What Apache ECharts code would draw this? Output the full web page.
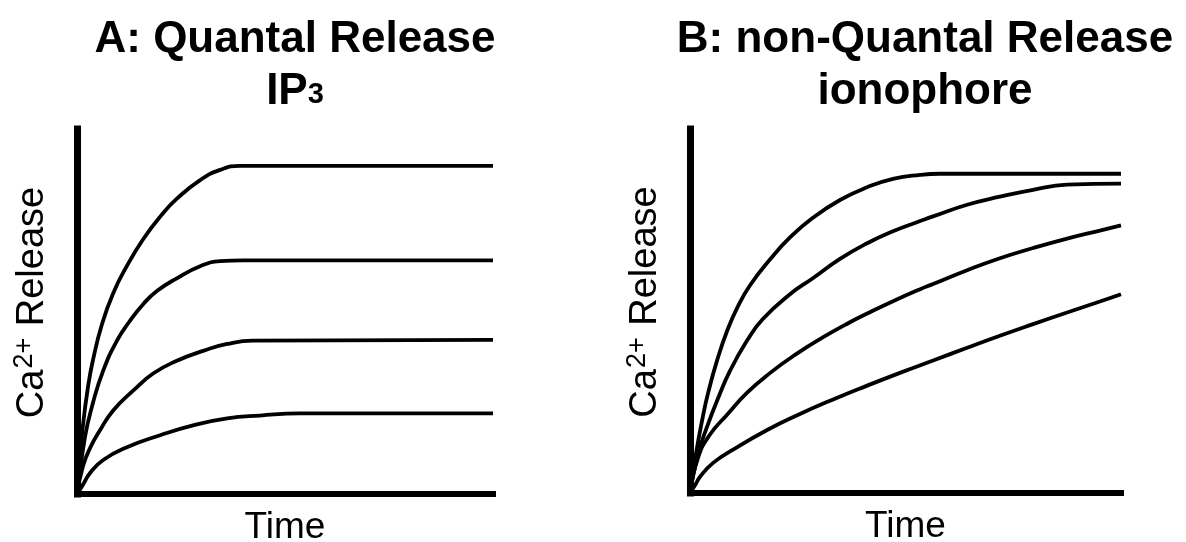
<!DOCTYPE html>
<html>
<head>
<meta charset="utf-8">
<script src="https://cdn.jsdelivr.net/npm/echarts@6/dist/echarts.min.js"></script>
<style>
  html, body { margin: 0; padding: 0; background: #fff; }
  #chart { width: 1186px; height: 542px; }
</style>
</head>
<body>
<div id="chart"></div>
<script>
// ---- Titles / labels ----
const titleA = 'A: Quantal Release';
const subA = ['IP', '3'];
const titleB = 'B: non-Quantal Release';
const subB = 'ionophore';
const yName = ['Ca', '2+', ' Release'];
const xName = 'Time';

// ---- Panel A: quantal release (time %, release %) ----
const quantal1 = [[0,0],[0.7,9.3],[1.4,18.5],[2.6,29.0],[3.8,36.5],[6.0,46.5],[8.7,55.0],[12.0,62.5],[15.9,69.8],[20.0,76.0],[24.0,80.9],[29.6,86.0],[34.4,88.8],[39.2,89.9],[100,89.9]];
const quantal2 = [[0,0],[1.9,15.5],[3.8,24.8],[6.3,33.8],[9.6,42.0],[12.7,47.4],[15.9,52.0],[19.2,55.6],[24.0,59.1],[29.6,62.4],[34.4,63.8],[40.0,64.0],[100,64.0]];
const quantal3 = [[0,0],[1.4,7.5],[3.1,12.5],[5.5,17.4],[8.7,22.9],[13.5,28.3],[18.3,33.0],[24.0,36.5],[30.3,39.2],[36.1,41.1],[42.3,42.0],[100,42.2]];
const quantal4 = [[0,0],[1.4,2.5],[3.1,5.7],[6.3,9.3],[12.0,12.8],[20.0,16.1],[27.9,18.8],[36.1,20.7],[44.0,21.5],[53.6,22.1],[100,22.1]];

// ---- Panel B: non-quantal release ----
const ionophore1 = [[0,0],[1.4,10.9],[2.8,19.9],[4.2,27.5],[6.3,36.5],[8.6,44.5],[11.0,51.0],[13.9,57.0],[18.6,64.2],[23.2,70.2],[28.5,75.6],[34.8,80.5],[41.1,84.0],[47.1,86.3],[53.4,87.4],[58.0,87.7],[100,87.7]];
const ionophore2 = [[0,0],[1.9,10.9],[3.9,18.0],[6.3,25.4],[9.3,33.6],[13.2,41.8],[16.9,47.8],[23.2,54.6],[28.5,59.0],[34.8,64.3],[41.1,68.6],[47.1,71.9],[53.4,74.7],[56.4,76.0],[64.3,79.2],[71.9,81.4],[79.6,83.3],[87.5,84.7],[100,85.0]];
const ionophore3 = [[0,0],[1.9,9.8],[4.6,16.0],[8.6,21.5],[13.2,27.5],[18.6,33.0],[24.8,38.3],[30.9,42.8],[37.1,46.9],[41.1,49.3],[47.1,52.7],[53.4,56.0],[56.4,57.4],[64.3,61.2],[71.9,64.5],[79.6,67.3],[87.5,69.9],[95.1,72.1],[100,73.5]];
const ionophore4 = [[0,0],[1.2,2.2],[2.3,4.4],[5.3,8.2],[10.0,11.9],[17.9,17.3],[25.5,21.7],[33.2,25.7],[41.1,29.5],[48.7,33.0],[56.4,36.4],[64.3,39.9],[71.9,43.2],[79.6,46.4],[87.5,49.6],[95.1,52.6],[100,54.6]];

const FONT = '"Liberation Sans", Arial, Helvetica, sans-serif';

const chart = echarts.init(document.getElementById('chart'));

function titleComp(x, line1, line2Rich) {
  return {
    left: x, top: 9, textAlign: 'center',
    text: '{t|' + line1 + '}\n' + line2Rich,
    textStyle: {
      rich: {
        t: { fontFamily: FONT, fontWeight: 'bold', fontSize: 44, lineHeight: 52, color: '#000' },
        s: { fontFamily: FONT, fontWeight: 'bold', fontSize: 29, lineHeight: 52, color: '#000', verticalAlign: 'bottom', padding: [0,0,9,0] }
      }
    }
  };
}

const yNameRich = '{a|' + yName[0] + '}{s|' + yName[1] + '}{a|' + yName[2] + '}';

function xAx(gi) {
  return {
    type: 'value', gridIndex: gi, min: 0, max: 100,
    name: xName, nameLocation: 'middle', nameGap: 15,
    nameTextStyle: { fontFamily: FONT, fontSize: 37, color: '#000', verticalAlign: 'top' },
    axisLine: { onZero: false, lineStyle: { color: '#000', width: 6, cap: 'square' } },
    axisTick: { show: false }, axisLabel: { show: false }, splitLine: { show: false }
  };
}
function yAx(gi) {
  return {
    type: 'value', gridIndex: gi, min: 0, max: 100,
    name: yNameRich, nameLocation: 'middle', nameGap: 22,
    nameTextStyle: {
      padding: [0, 0, 0, 18],
      rich: {
        a: { fontFamily: FONT, fontSize: 38, color: '#000', lineHeight: 44 },
        s: { fontFamily: FONT, fontSize: 27, color: '#000', lineHeight: 44, verticalAlign: 'top', padding: [0,1,0,1] }
      }
    },
    axisLine: { onZero: false, lineStyle: { color: '#000', width: 7, cap: 'square' } },
    axisTick: { show: false }, axisLabel: { show: false }, splitLine: { show: false }
  };
}
function curve(data, xi) {
  return {
    type: 'line', xAxisIndex: xi, yAxisIndex: xi, data: data,
    showSymbol: false, smooth: 0.5,
    lineStyle: { color: '#000', width: 3.8 }, silent: true, animation: false
  };
}

chart.setOption({
  backgroundColor: '#fff',
  animation: false,
  title: [
    titleComp(290, titleA, '{t|' + subA[0] + '}{s|' + subA[1] + '}'),
    titleComp(920, titleB, '{t|' + subB + '}')
  ],
  grid: [
    { left: 77, top: 129, width: 416, height: 365, outerBoundsMode: 'none', containLabel: false },
    { left: 690, top: 129, width: 431, height: 364, outerBoundsMode: 'none', containLabel: false }
  ],
  xAxis: [xAx(0), xAx(1)],
  yAxis: [yAx(0), yAx(1)],
  series: [
    curve(quantal1, 0), curve(quantal2, 0), curve(quantal3, 0), curve(quantal4, 0),
    curve(ionophore1, 1), curve(ionophore2, 1), curve(ionophore3, 1), curve(ionophore4, 1)
  ]
});
</script>
</body>
</html>
